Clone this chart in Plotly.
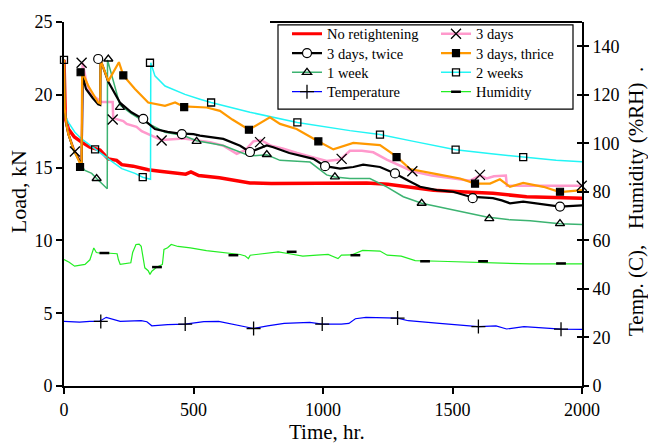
import plotly.graph_objects as go

# ---------------- data (time in hr, load in kN; temp in C, humidity in %RH) ----------------
t_red = [0, 2, 5, 17, 40, 68, 100, 139, 171, 203, 223, 267, 325, 370, 429, 470, 490, 520, 600, 718,
         800, 911, 1000, 1104, 1169, 1250, 1350, 1427, 1529, 1656, 1786, 2000]
L_red = [22.4, 20.0, 18.4, 17.65, 17.1, 16.75, 16.4, 16.2, 15.6, 15.5, 15.2, 15.1, 14.85, 14.75, 14.6,
         14.55, 14.7, 14.45, 14.3, 13.95, 13.9, 13.9, 13.95, 13.9, 13.95, 13.85, 13.6, 13.45, 13.34,
         13.23, 13.0, 12.9]

t_pink = [0, 3, 10, 17, 42, 68, 72, 85, 100, 132, 145, 188, 190, 229, 242, 280, 300, 351, 377, 461,
          564, 615, 667, 700, 731, 760, 800, 847, 900, 963, 1014, 1066, 1104, 1150, 1194, 1246, 1297,
          1345, 1420, 1500, 1568, 1606, 1632, 1660, 1706, 1710, 2000]
L_pink = [22.4, 19.0, 18.0, 17.3, 16.1, 15.4, 22.2, 21.0, 20.1, 19.7, 19.5, 19.5, 18.4, 18.2, 18.0,
          17.8, 17.5, 17.1, 16.9, 17.0, 16.75, 16.5, 15.95, 16.2, 16.8, 16.9, 16.5, 16.3, 16.0, 15.7,
          15.45, 15.55, 16.15, 16.15, 16.05, 15.55, 15.15, 14.75, 14.45, 14.25, 14.1, 14.45, 14.25,
          14.4, 14.45, 13.75, 13.75]

t_blk = [0, 3, 10, 17, 36, 55, 68, 72, 85, 110, 132, 140, 141, 171, 216, 260, 306, 351, 400, 441,
         500, 525, 615, 680, 718, 783, 808, 870, 963, 1008, 1066, 1117, 1155, 1220, 1278, 1330, 1375,
         1440, 1502, 1568, 1600, 1656, 1690, 1722, 1773, 1850, 1915, 2000]
L_blk = [22.4, 19.0, 17.9, 17.3, 16.3, 15.6, 15.2, 21.3, 20.4, 19.8, 19.35, 19.3, 22.4, 20.9, 19.47,
         18.8, 18.33, 17.65, 17.45, 17.35, 17.3, 17.2, 16.97, 16.5, 16.07, 16.52, 16.4, 16.0, 15.6,
         15.1, 14.93, 15.04, 15.2, 15.04, 14.6, 14.1, 13.68, 13.45, 13.34, 13.0, 12.95, 12.9, 12.75,
         12.55, 12.66, 12.45, 12.32, 12.4]

t_org = [0, 3, 10, 17, 36, 55, 68, 70, 94, 132, 140, 141, 171, 212, 229, 274, 325, 390, 429, 461,
         551, 602, 650, 714, 795, 834, 898, 976, 1040, 1117, 1220, 1284, 1336, 1439, 1529, 1587, 1645,
         1683, 1722, 1773, 1851, 1915, 2000]
L_org = [22.4, 19.0, 17.9, 17.3, 16.3, 15.5, 15.04, 21.6, 20.6, 19.47, 19.4, 22.4, 20.94, 22.24, 21.33,
         20.4, 19.47, 19.24, 19.47, 19.2, 19.13, 18.9, 18.3, 17.6, 18.45, 18.0, 17.65, 16.86, 16.25,
         16.7, 16.55, 15.75, 14.9, 14.55, 14.25, 13.9, 13.9, 14.2, 13.68, 13.95, 13.68, 13.32, 13.45]

t_grn = [0, 3, 10, 17, 36, 55, 68, 81, 107, 126, 152, 167, 168, 190, 216, 260, 306, 390, 461, 512,
         615, 718, 783, 834, 950, 1014, 1046, 1104, 1181, 1246, 1310, 1381, 1503, 1529, 1632, 1722,
         1800, 1915, 2000]
L_grn = [22.4, 19.0, 17.9, 17.3, 16.2, 15.5, 15.1, 14.8, 14.6, 14.25, 13.8, 13.55, 22.4, 21.05, 19.3,
         18.7, 18.2, 17.43, 17.2, 16.85, 16.52, 15.8, 15.88, 15.5, 15.38, 14.5, 14.36, 14.25, 14.25,
         13.68, 13.0, 12.55, 12.09, 11.98, 11.6, 11.41, 11.35, 11.15, 11.1]

t_cyn = [0, 2, 4, 17, 42, 68, 120, 145, 171, 223, 274, 304, 334, 335, 351, 390, 467, 525, 568, 718,
         901, 1104, 1220, 1350, 1512, 1650, 1773, 1900, 2000]
L_cyn = [22.4, 20.0, 18.6, 18.1, 17.43, 16.97, 16.25, 15.95, 15.6, 14.93, 14.6, 14.34, 14.2, 22.2,
         21.3, 20.6, 20.03, 19.7, 19.47, 18.8, 18.1, 17.54, 17.27, 16.8, 16.23, 15.95, 15.72, 15.5, 15.4]

t_temp = [0, 60, 100, 136, 163, 180, 217, 298, 320, 339, 400, 468, 540, 597, 660, 732, 786, 850, 949,
          997, 1071, 1100, 1125, 1166, 1288, 1329, 1450, 1600, 1668, 1709, 1776, 1919, 2000]
v_temp = [26.6, 26.3, 26.6, 26.6, 28.3, 27.8, 26.6, 26.9, 26.5, 24.8, 25.3, 25.5, 26.5, 26.6, 25.2,
          23.7, 24.8, 25.8, 26.2, 25.5, 25.5, 25.8, 27.7, 28.3, 28.0, 26.9, 25.8, 24.5, 24.8, 23.5,
          24.5, 23.4, 23.3]

t_hum = [0, 20, 41, 60, 81, 100, 115, 125, 136, 163, 205, 210, 217, 258, 265, 278, 290, 298, 305,
         312, 325, 332, 339, 359, 380, 386, 400, 414, 440, 488, 550, 624, 680, 700, 712, 719, 760,
         827, 870, 922, 976, 1020, 1058, 1071, 1110, 1153, 1220, 1248, 1302, 1356, 1450, 1573, 1650,
         1763, 1800, 2000]
v_hum = [52.1, 51.0, 49.4, 49.8, 50.1, 52.0, 56.9, 55.0, 54.8, 54.8, 54.5, 52.1, 50.1, 50.8, 55.0,
         58.3, 58.5, 57.6, 52.0, 48.7, 47.5, 46.0, 47.3, 49.0, 50.1, 56.3, 57.0, 58.3, 57.5, 56.9,
         55.8, 54.8, 54.2, 53.6, 52.5, 53.9, 54.5, 55.3, 54.5, 53.5, 53.9, 54.2, 52.5, 53.9, 54.0,
         55.9, 55.6, 53.9, 53.5, 51.7, 51.4, 51.1, 50.8, 50.5, 50.3, 50.3]

# marker positions
mk_pink_t = [42, 68, 188, 377, 757, 1072, 1345, 1606, 1999]
mk_pink_v = [16.1, 22.2, 18.3, 16.86, 16.75, 15.6, 14.75, 14.5, 13.75]
mk_blk_t = [132, 306, 455, 718, 1008, 1278, 1578, 1915]
mk_blk_v = [22.46, 18.35, 17.3, 16.07, 15.1, 14.6, 12.9, 12.32]
mk_org_t = [62, 64, 229, 464, 714, 982, 1284, 1587, 1915]
mk_org_v = [15.04, 21.55, 21.33, 19.15, 17.6, 16.8, 15.72, 13.9, 13.34]
mk_grn_t = [126, 171, 216, 512, 783, 1046, 1381, 1642, 1915]
mk_grn_v = [14.25, 22.46, 19.13, 16.8, 15.9, 14.36, 12.55, 11.5, 11.15]
mk_cyn_t = [0, 120, 304, 332, 568, 901, 1220, 1512, 1773]
mk_cyn_v = [22.4, 16.25, 14.34, 22.2, 19.47, 18.1, 17.27, 16.23, 15.72]
mk_temp_t = [142, 468, 732, 997, 1288, 1600, 1919]
mk_temp_v = [26.6, 25.5, 23.7, 25.5, 28.0, 24.5, 23.4]
mk_hum_t = [156, 359, 654, 879, 1125, 1394, 1618, 1919]
mk_hum_v = [54.8, 49.0, 53.9, 55.3, 53.9, 51.4, 51.4, 50.5]

x_ticks = [0, 500, 1000, 1500, 2000]
y_ticks = [0, 5, 10, 15, 20, 25]
y2_ticks = [0, 20, 40, 60, 80, 100, 120, 140]

FONT = "Liberation Serif, Times New Roman, serif"

# ---------------- styles ----------------
RED, PINK, BLK, ORG, GRN, CYN, BLU, HUM = ("#FF0000", "#FF99CC", "#000000", "#FF9900",
                                          "#3CB371", "#22F5F5", "#0000FF", "#22EE22")

series = [
    # name, t, v, color, width, yaxis, mk_t, mk_v, symbol, size, fill
    ("No retightening", t_red, L_red, RED, 3.5, "y", None, None, None, 0, None),
    ("3 days", t_pink, L_pink, PINK, 2.5, "y", mk_pink_t, mk_pink_v, "x-thin-open", 10, None),
    ("3 days, twice", t_blk, L_blk, BLK, 2.2, "y", mk_blk_t, mk_blk_v, "circle", 9, "white"),
    ("3 days, thrice", t_org, L_org, ORG, 2.2, "y", mk_org_t, mk_org_v, "square", 7, "black"),
    ("1 week", t_grn, L_grn, GRN, 1.5, "y", mk_grn_t, mk_grn_v, "triangle-up-open", 8, None),
    ("2 weeks", t_cyn, L_cyn, CYN, 1.5, "y", mk_cyn_t, mk_cyn_v, "square-open", 7, None),
    ("Temperature", t_temp, v_temp, BLU, 1.2, "y2", mk_temp_t, mk_temp_v, "cross-thin-open", 10, None),
    ("Humidity", t_hum, v_hum, HUM, 1.2, "y2", mk_hum_t, mk_hum_v, "line-ew-open", 7, None),
]

fig = go.Figure()

def marker_dict(symbol, size, fill):
    if symbol in ("circle", "square"):
        return dict(symbol=symbol, size=size, color=fill, line=dict(color="black", width=1.2))
    if symbol == "line-ew-open":
        return dict(symbol=symbol, size=size, color="black", line=dict(color="black", width=2.5))
    return dict(symbol=symbol, size=size, color="black", line=dict(color="black", width=1.3))

# lines (draw order)
draw_order = ["Humidity", "Temperature", "No retightening", "3 days", "2 weeks", "1 week",
              "3 days, twice", "3 days, thrice"]
by_name = {s[0]: s for s in series}
for nm in draw_order:
    name, t, v, col, w, ya, mt, mv, sym, sz, fill = by_name[nm]
    fig.add_trace(go.Scatter(x=t, y=v, mode="lines", yaxis=ya, line=dict(color=col, width=w),
                             showlegend=False, hoverinfo="skip"))
# markers on top
for nm in draw_order:
    name, t, v, col, w, ya, mt, mv, sym, sz, fill = by_name[nm]
    if mt is None:
        continue
    fig.add_trace(go.Scatter(x=mt, y=mv, mode="markers", yaxis=ya, marker=marker_dict(sym, sz, fill),
                             showlegend=False, hoverinfo="skip", cliponaxis=False))

W, H = 648, 446
L_, R_, T_, B_ = 64, 66, 18, 60
PW, PH = W - L_ - R_, H - T_ - B_

def px(x):
    return (x - L_) / PW

def py(y):
    return (H - B_ - y) / PH

# legend: one legend per entry, placed in a 2-column grid
legend_slots = [
    ("No retightening", 287, 30), ("3 days", 436, 30),
    ("3 days, twice", 287, 49.5), ("3 days, thrice", 436, 49.5),
    ("1 week", 287, 69), ("2 weeks", 436, 69),
    ("Temperature", 287, 88.5), ("Humidity", 436, 88.5),
]
legend_layout = {}
for i, (nm, lx, ly) in enumerate(legend_slots):
    key = "legend" if i == 0 else "legend%d" % (i + 1)
    name, t, v, col, w, ya, mt, mv, sym, sz, fill = by_name[nm]
    kw = dict(x=[None], y=[None], name=name, legend=key, yaxis="y",
              line=dict(color=col, width=min(w, 3)))
    if sym is None:
        kw["mode"] = "lines"
    else:
        kw["mode"] = "lines+markers"
        kw["marker"] = marker_dict(sym, sz, fill)
    fig.add_trace(go.Scatter(**kw))
    legend_layout[key] = dict(x=px(lx), y=py(ly), xanchor="left", yanchor="middle",
                              font=dict(family=FONT, size=14.5, color="black"),
                              bgcolor="rgba(0,0,0,0)", borderwidth=0, itemclick=False)

fig.add_trace(go.Scatter(x=[None], y=[None], yaxis="y3", showlegend=False, hoverinfo="skip"))

axis_common = dict(showgrid=False, zeroline=False, showline=True, linecolor="black", linewidth=2,
                   ticks="outside", tickcolor="black", tickwidth=1.5,
                   tickfont=dict(family=FONT, size=18, color="black"))

fig.update_layout(
    width=W, height=H,
    margin=dict(l=L_, r=R_, t=T_, b=B_, pad=0),
    paper_bgcolor="white", plot_bgcolor="white",
    font=dict(family=FONT, color="black"),
    xaxis=dict(range=[0, 2000], tickvals=x_ticks, ticklen=6, **axis_common),
    yaxis=dict(range=[0, 25], tickvals=y_ticks, ticklen=6, **axis_common),
    yaxis2=dict(range=[0, 150], tickvals=y2_ticks, overlaying="y", side="right", anchor="x",
                ticklen=5, **axis_common),
    yaxis3=dict(range=[0, 150], tickvals=y2_ticks, overlaying="y", side="right", anchor="x",
                showline=False, showgrid=False, zeroline=False, ticks="inside", ticklen=5,
                tickwidth=1.5, tickcolor="black", showticklabels=False),
    showlegend=True,
    shapes=[
        dict(type="rect", xref="paper", yref="paper", x0=px(278), x1=px(573), y0=py(106), y1=py(21),
             line=dict(color="black", width=1.2), fillcolor="rgba(0,0,0,0)", layer="above"),
        dict(type="line", xref="paper", yref="paper", x0=px(270), x1=1.0, y0=1.0, y1=1.0,
             line=dict(color="black", width=2), layer="above"),
    ],
    annotations=[
        dict(text="Time, hr.", xref="paper", yref="paper", x=px(327), y=py(433), showarrow=False,
             xanchor="center", yanchor="middle", font=dict(family=FONT, size=21, color="black")),
        dict(text="Load, kN", xref="paper", yref="paper", x=px(18), y=py(190), showarrow=False,
             textangle=-90, xanchor="center", yanchor="middle",
             font=dict(family=FONT, size=22, color="black")),
        dict(text="Temp. (C),\u00a0\u00a0 Humidity (%RH)\u00a0 .", xref="paper", yref="paper",
             x=px(636), y=py(200), showarrow=False, textangle=-90, xanchor="center",
             yanchor="middle", font=dict(family=FONT, size=21, color="black")),
    ],
    **legend_layout,
)

fig.write_html("out.html")
